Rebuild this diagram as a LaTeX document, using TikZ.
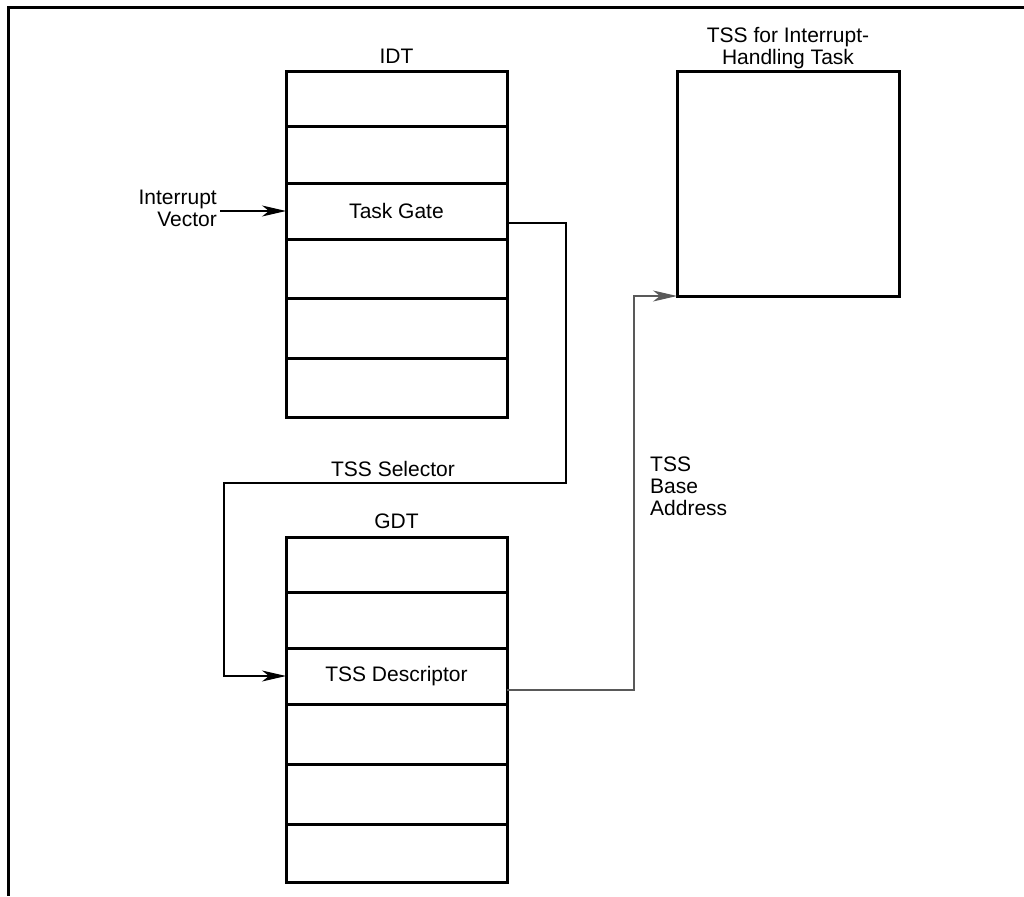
\documentclass[tikz,border=0pt]{standalone}
\usepackage{fontspec}
\setmainfont{Liberation Sans}
\usetikzlibrary{positioning,arrows.meta}

\begin{document}
\begin{tikzpicture}[
  x=1pt, y=-1pt,
  font=\fontsize{21}{22}\selectfont,
  node distance=0pt,
  slot/.style={draw, line width=3pt, minimum width=221pt,
               inner sep=0pt, outer sep=0pt, anchor=north},
  caption/.style={inner sep=0pt, align=center},
  link/.style={-{Stealth[length=24pt,width=11pt,inset=7pt]}, line width=1.1pt},
  baselink/.style={link, black!65},
  framing/.style={line width=3pt},
]
\useasboundingbox (0,0) rectangle (1024,896);

% ---- Page frame (open at right and bottom) ----
\draw[framing] (1024,8) -- (8,8) -- (8,896);

% ---- IDT ----
\node[slot, minimum height=55pt] (idt1) at (396.5,72) {};
\foreach \i/\h/\txt in {2/56/{}, 3/56/Task Gate, 4/59.5/{}, 5/60/{}, 6/58.5/{}} {
  \pgfmathtruncatemacro\prev{\i-1}
  \node[slot, minimum height=\h pt, below=0pt of idt\prev] (idt\i) {\txt};
}
\node[caption, above=8pt of idt1] (idtlabel) {IDT};

% ---- GDT ----
\node[slot, minimum height=55pt] (gdt1) at (396.5,537) {};
\foreach \i/\h/\txt in {2/56/{}, 3/56/TSS Descriptor, 4/60/{}, 5/60/{}, 6/58/{}} {
  \pgfmathtruncatemacro\prev{\i-1}
  \node[slot, minimum height=\h pt, below=0pt of gdt\prev] (gdt\i) {\txt};
}
\node[caption, above=8pt of gdt1] (gdtlabel) {GDT};

% ---- TSS of the handler task ----
\node[slot, minimum width=222pt, minimum height=224pt, anchor=north west]
  (tss) at (677,72) {};
\node[caption, above=3pt of tss] (tsslabel) {TSS for Interrupt-\\Handling Task};

% Labels
\node[caption, align=right, anchor=north east] (ivec) at (217,190) {Interrupt\\Vector};
\node[caption, anchor=base] (sellabel) at (393,476) {TSS Selector};
\node[caption, align=left, anchor=north west] (baselabel) at (650,457) {TSS\\Base\\Address};

% Connectors
\draw[link] ([xshift=3pt]ivec.east |- idt3.west) -- (idt3.west);
\draw[link] ([yshift=-12pt]idt3.east) -| (566,483) -- (224,483) |- (gdt3.west);
\draw[baselink] ([yshift=-14pt]gdt3.east) -| ([xshift=-43pt]tss.south west)
  -- (tss.south west);

\end{tikzpicture}
\end{document}
